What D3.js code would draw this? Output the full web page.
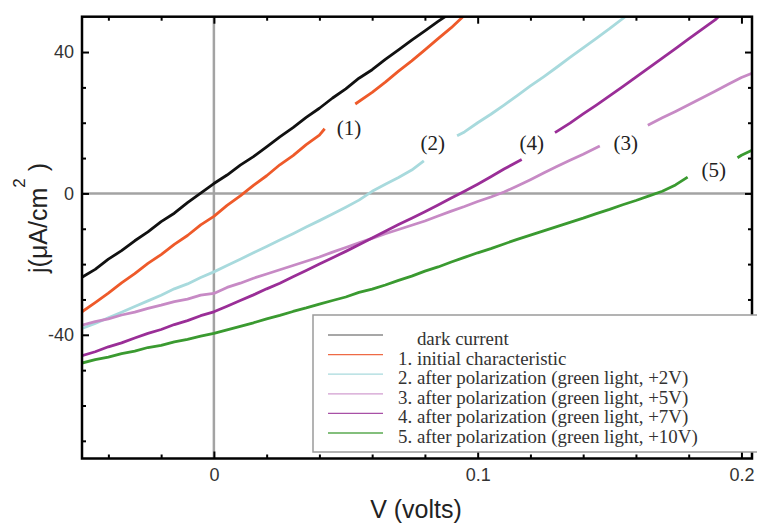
<!DOCTYPE html>
<html>
<head>
<meta charset="utf-8">
<script src="https://cdnjs.cloudflare.com/ajax/libs/d3/7.8.5/d3.min.js"></script>
<style>
  body { margin: 0; background: #fff; }
  .axis text { font-family: Arial, "Liberation Sans", sans-serif; font-size: 18px; fill: #333; }
  .legend text { font-family: "Liberation Serif", "Times New Roman", serif; font-size: 18.9px; fill: #333; white-space: pre; }
</style>
</head>
<body>
<div id="chart"></div>
<script>
// series values: [V (volts), j (uA/cm2)], null = gap under a label
const darkCurrent = [[-0.05,-23.7],[-0.045,-21.5],[-0.04,-18.6],[-0.035,-16.2],[-0.03,-13.4],[-0.025,-10.9],[-0.02,-8.0],[-0.015,-5.6],[-0.01,-2.6],[-0.005,0.1],[0,2.8],[0.005,5.2],[0.01,8.0],[0.015,10.4],[0.02,13.2],[0.025,16.0],[0.03,18.6],[0.035,21.5],[0.04,24.1],[0.045,27.0],[0.05,29.6],[0.055,32.6],[0.06,35.0],[0.065,37.9],[0.07,40.6],[0.075,43.4],[0.08,46.0],[0.085,48.7],[0.088,50.2]];

const initial = [[-0.05,-33.5],[-0.045,-30.9],[-0.04,-28.2],[-0.035,-25.3],[-0.03,-22.7],[-0.025,-19.8],[-0.02,-17.3],[-0.015,-14.4],[-0.01,-11.9],[-0.005,-8.9],[0,-6.5],[0.005,-3.4],[0.01,-0.7],[0.015,2.3],[0.02,5.0],[0.025,8.1],[0.03,10.7],[0.035,13.8],[0.04,16.5],[0.042,18.3],
  null,
  [0.0536,25.3],[0.06,28.6],[0.065,31.5],[0.07,34.6],[0.075,37.5],[0.08,40.6],[0.085,43.8],[0.09,46.9],[0.0947,50.2]];

const pol2V = [[-0.05,-38.2],[-0.045,-36.8],[-0.04,-35.2],[-0.035,-33.6],[-0.03,-32.0],[-0.025,-30.4],[-0.02,-28.8],[-0.015,-27.0],[-0.01,-25.6],[-0.005,-23.8],[0,-22.2],[0.005,-20.4],[0.01,-18.6],[0.015,-16.8],[0.02,-15.0],[0.025,-13.2],[0.03,-11.4],[0.035,-9.5],[0.04,-7.7],[0.045,-5.8],[0.05,-3.9],[0.055,-1.9],[0.06,0.6],[0.065,2.6],[0.07,4.5],[0.075,6.6],[0.0796,9.2],
  null,
  [0.0922,16.3],[0.095,17.4],[0.1,20.0],[0.105,22.4],[0.11,25.0],[0.115,27.7],[0.12,30.4],[0.125,33.0],[0.13,35.7],[0.135,38.5],[0.14,41.2],[0.145,43.9],[0.15,46.6],[0.1563,50.2]];

const pol5V = [[-0.05,-37.3],[-0.045,-36.3],[-0.04,-35.5],[-0.035,-34.4],[-0.03,-33.6],[-0.025,-32.5],[-0.02,-31.6],[-0.015,-30.6],[-0.01,-29.9],[-0.005,-28.8],[0,-28.3],[0.005,-26.6],[0.01,-25.4],[0.015,-24.0],[0.02,-22.8],[0.025,-21.6],[0.03,-20.4],[0.035,-19.2],[0.04,-18.0],[0.045,-16.6],[0.05,-15.3],[0.055,-14.0],[0.06,-12.7],[0.065,-11.4],[0.07,-10.2],[0.075,-9.0],[0.08,-7.8],[0.085,-6.4],[0.09,-5.0],[0.095,-3.7],[0.1,-2.3],[0.105,-1.0],[0.11,0.4],[0.115,2.1],[0.12,3.9],[0.125,5.8],[0.13,7.6],[0.135,9.4],[0.14,11.1],[0.1463,13.4],
  null,
  [0.1645,19.3],[0.17,21.4],[0.175,23.2],[0.18,25.1],[0.185,27.0],[0.19,28.9],[0.195,30.9],[0.2,32.8],[0.204,34.0]];

const pol7V = [[-0.05,-45.9],[-0.045,-44.8],[-0.04,-43.4],[-0.035,-42.3],[-0.03,-40.9],[-0.025,-39.6],[-0.02,-38.5],[-0.015,-37.1],[-0.01,-36.0],[-0.005,-34.6],[0,-33.5],[0.005,-31.9],[0.01,-30.3],[0.015,-28.7],[0.02,-27.0],[0.025,-25.4],[0.03,-23.6],[0.035,-21.8],[0.04,-20.0],[0.045,-18.2],[0.05,-16.4],[0.055,-14.5],[0.06,-12.6],[0.065,-10.7],[0.07,-8.8],[0.075,-7.0],[0.08,-5.2],[0.085,-3.3],[0.09,-1.3],[0.095,0.6],[0.1,2.6],[0.105,4.7],[0.11,6.9],[0.1167,9.6],
  null,
  [0.1293,17.2],[0.135,19.9],[0.14,22.5],[0.145,25.0],[0.15,27.6],[0.155,30.2],[0.16,32.9],[0.165,35.6],[0.17,38.3],[0.175,41.0],[0.18,43.7],[0.185,46.4],[0.19,49.1],[0.1916,50.2]];

const pol10V = [[-0.05,-48.0],[-0.045,-47.0],[-0.04,-46.3],[-0.035,-45.3],[-0.03,-44.6],[-0.025,-43.6],[-0.02,-43.0],[-0.015,-42.0],[-0.01,-41.3],[-0.005,-40.4],[0,-39.6],[0.005,-38.6],[0.01,-37.6],[0.015,-36.6],[0.02,-35.5],[0.025,-34.5],[0.03,-33.4],[0.035,-32.4],[0.04,-31.3],[0.045,-30.3],[0.05,-29.3],[0.055,-28.0],[0.06,-27.1],[0.065,-25.9],[0.07,-24.6],[0.075,-23.4],[0.08,-22.0],[0.085,-20.8],[0.09,-19.4],[0.095,-18.1],[0.1,-16.8],[0.105,-15.6],[0.11,-14.3],[0.115,-13.0],[0.12,-11.8],[0.125,-10.6],[0.13,-9.4],[0.135,-8.2],[0.14,-7.0],[0.145,-5.7],[0.15,-4.5],[0.155,-3.2],[0.16,-2.0],[0.165,-0.7],[0.17,0.6],[0.175,2.4],[0.1796,4.6],
  null,
  [0.1985,10.1],[0.2,10.8],[0.204,12.2]];

const seriesData = [darkCurrent, initial, pol2V, pol5V, pol7V, pol10V];
const seriesColors = ["#111111", "#ee5a2a", "#a8dadd", "#c78ac5", "#9a2e97", "#3a9a30"];
const legendColors = ["#8a8a8a", "#ee6a45", "#a8dadd", "#d29ed0", "#a850a6", "#5aaa50"];
const legendLabels = [
  "    dark current",
  "1. initial characteristic",
  "2. after polarization (green light, +2V)",
  "3. after polarization (green light, +5V)",
  "4. after polarization (green light, +7V)",
  "5. after polarization (green light, +10V)"
];

// curve labels placed in data units
const curveLabels = ["(1)", "(2)", "(4)", "(3)", "(5)"];
const curveLabelV = [0.0512, 0.083, 0.1205, 0.1561, 0.1895];
const curveLabelJ = [18.5, 14.3, 14.3, 14.3, 6.7];

const xMinorTicks = d3.range(-4, 21, 2).map(d => d / 100);
const xMajorTicks = [0, 0.1, 0.2];
const yMinorTicks = d3.range(-70, 50, 10);
const yMajorTicks = [-40, 0, 40];

const width = 757, height = 529;
const plot = { left: 82, right: 752, top: 16.7, bottom: 458.5 };

const svg = d3.select("#chart").append("svg")
  .attr("width", width)
  .attr("height", height);

const x = d3.scaleLinear().domain([-0.05, 0.204]).range([plot.left, plot.right]);
const y = d3.scaleLinear().domain([-75, 50]).range([plot.bottom, plot.top]);

svg.append("clipPath").attr("id", "plotclip")
  .append("rect")
  .attr("x", plot.left).attr("y", plot.top)
  .attr("width", plot.right - plot.left).attr("height", plot.bottom - plot.top);

// zero lines
svg.append("line")
  .attr("x1", x(0)).attr("x2", x(0)).attr("y1", plot.top).attr("y2", plot.bottom)
  .attr("stroke", "#a3a3a3").attr("stroke-width", 2.5);
svg.append("line")
  .attr("x1", plot.left).attr("x2", plot.right).attr("y1", y(0)).attr("y2", y(0))
  .attr("stroke", "#a3a3a3").attr("stroke-width", 2.5);

const line = d3.line()
  .defined(d => d !== null)
  .x(d => x(d[0]))
  .y(d => y(d[1]));

svg.append("g")
  .attr("clip-path", "url(#plotclip)")
  .selectAll("path")
  .data(seriesData)
  .enter()
  .append("path")
  .attr("fill", "none")
  .attr("stroke", (d, i) => seriesColors[i])
  .attr("stroke-width", 2.8)
  .attr("stroke-linejoin", "round")
  .attr("d", line);

// curve numbers
svg.append("g")
  .selectAll("text")
  .data(curveLabels)
  .enter()
  .append("text")
  .attr("x", (d, i) => x(curveLabelV[i]))
  .attr("y", (d, i) => y(curveLabelJ[i]))
  .attr("dy", "0.35em")
  .attr("text-anchor", "middle")
  .style("font-family", "'Liberation Serif', 'Times New Roman', serif")
  .style("font-size", "21px")
  .style("fill", "#222")
  .text(d => d);

// ticks all round, pointing inward
const isMajorX = d => xMajorTicks.some(m => Math.abs(m - d) < 1e-9);
const isMajorY = d => yMajorTicks.includes(d);

function styleTicks(g) {
  g.select(".domain").remove();
  g.selectAll(".tick line").attr("stroke", "#000").attr("stroke-width", 2);
  g.selectAll(".tick text").remove();
}

svg.append("g")
  .attr("transform", `translate(0,${plot.bottom})`)
  .call(d3.axisBottom(x).tickValues(xMinorTicks).tickSize(-4))
  .call(styleTicks)
  .selectAll(".tick line").attr("y2", d => isMajorX(d) ? -7 : -4);

svg.append("g")
  .attr("transform", `translate(0,${plot.top})`)
  .call(d3.axisTop(x).tickValues(xMinorTicks).tickSize(-4))
  .call(styleTicks)
  .selectAll(".tick line").attr("y2", d => isMajorX(d) ? 7 : 4);

svg.append("g")
  .attr("transform", `translate(${plot.left},0)`)
  .call(d3.axisLeft(y).tickValues(yMinorTicks).tickSize(-4))
  .call(styleTicks)
  .selectAll(".tick line").attr("x2", d => isMajorY(d) ? 7 : 4);

svg.append("g")
  .attr("transform", `translate(${plot.right},0)`)
  .call(d3.axisRight(y).tickValues(yMinorTicks).tickSize(-4))
  .call(styleTicks)
  .selectAll(".tick line").attr("x2", d => isMajorY(d) ? -7 : -4);

// tick labels
svg.append("g")
  .attr("class", "axis")
  .attr("transform", `translate(0,${plot.bottom})`)
  .call(d3.axisBottom(x).tickValues(xMajorTicks).tickSize(0).tickPadding(10).tickFormat(d => String(d)))
  .call(g => g.select(".domain").remove());

svg.append("g")
  .attr("class", "axis")
  .attr("transform", `translate(${plot.left},0)`)
  .call(d3.axisLeft(y).tickValues(yMajorTicks).tickSize(0).tickPadding(8).tickFormat(d => String(d)))
  .call(g => g.select(".domain").remove());

// frame
svg.append("rect")
  .attr("x", plot.left).attr("y", plot.top)
  .attr("width", plot.right - plot.left).attr("height", plot.bottom - plot.top)
  .attr("fill", "none")
  .attr("stroke", "#000")
  .attr("stroke-width", 2.5);

// legend sits on top of the frame
const legend = svg.append("g").attr("class", "legend");
legend.append("rect")
  .attr("x", 313).attr("y", 315)
  .attr("width", 460).attr("height", 137)
  .attr("fill", "#fff")
  .attr("stroke", "#9a9a9a")
  .attr("stroke-width", 1.5);

const rows = legend.selectAll(".row")
  .data(legendLabels)
  .enter()
  .append("g")
  .attr("class", "row")
  .attr("transform", (d, i) => "translate(0," + (335 + i * 19.6) + ")");

rows.append("line")
  .attr("x1", 328).attr("x2", 383)
  .attr("stroke", (d, i) => legendColors[i])
  .attr("stroke-width", 1.3);

rows.append("text")
  .attr("x", 398)
  .attr("y", 10)
  .text(d => d);

// axis titles
svg.append("text")
  .attr("x", 416).attr("y", 518)
  .attr("text-anchor", "middle")
  .style("font-family", "Arial, 'Liberation Sans', sans-serif")
  .style("font-size", "25px")
  .style("fill", "#222")
  .text("V (volts)");

const yTitle = svg.append("text")
  .attr("transform", "translate(47,273) rotate(-90)")
  .style("font-family", "Arial, 'Liberation Sans', sans-serif")
  .style("font-size", "25px")
  .style("fill", "#222");
yTitle.append("tspan").text("j(μA/cm");
yTitle.append("tspan").attr("dy", -22).style("font-size", "17px").text("2");
yTitle.append("tspan").attr("dy", 22).text(" )");
</script>
</body>
</html>
